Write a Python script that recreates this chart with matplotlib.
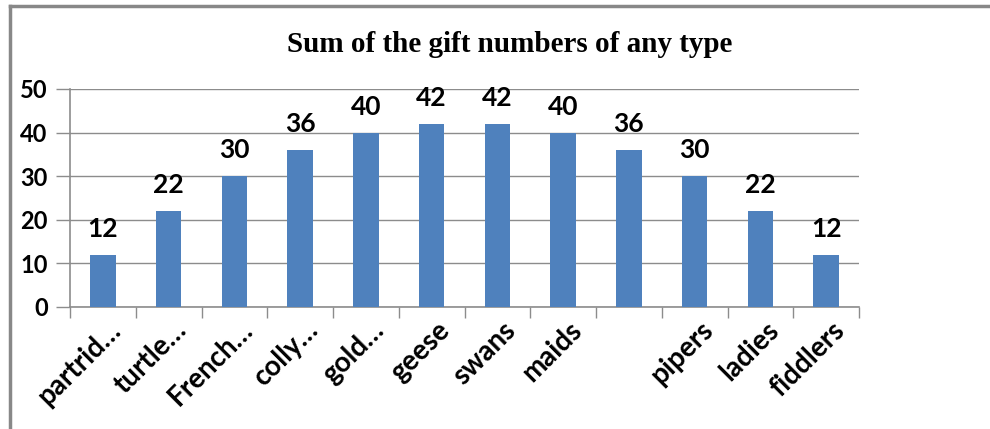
import matplotlib.pyplot as plt
import matplotlib.transforms as mtransforms
import numpy as np
from matplotlib.lines import Line2D

# data
categories = ["partrid…", "turtle…", "French…", "colly…", "gold…", "geese",
              "swans", "maids", "", "pipers", "ladies", "fiddlers"]
values = [12, 22, 30, 36, 40, 42, 42, 40, 36, 30, 22, 12]
y_ticks = [0, 10, 20, 30, 40, 50]

BAR_COLOR = "#4F81BD"
GRID_COLOR = "#8C8C8C"
LABEL_FONT = ["Lato", "DejaVu Sans"]

fig = plt.figure(figsize=(9.9, 4.29), dpi=100)
ax = fig.add_axes([70 / 990, 1 - 307 / 429, 789 / 990, 218 / 429])

x = np.arange(len(categories))
ax.bar(x, values, width=0.39, color=BAR_COLOR, zorder=3)

# value labels above the bars
for xi, v in zip(x, values):
    ax.annotate(str(v), (xi, v), xytext=(0, 10), textcoords="offset points",
                ha="center", va="bottom", fontsize=19, fontweight="bold",
                family=LABEL_FONT)

ax.set_xlim(-0.5, len(categories) - 0.5)
ax.set_ylim(0, 50)
ax.set_yticks(y_ticks)
ax.yaxis.grid(True, color=GRID_COLOR, linewidth=1)
ax.set_axisbelow(True)

# category labels at centers, tick marks at boundaries
ax.set_xticks(x)
ax.set_xticklabels(categories, rotation=45, ha="right", va="top",
                   rotation_mode="anchor", fontsize=20, fontweight="bold",
                   family=LABEL_FONT)
ax.tick_params(axis="x", which="major", length=0, pad=7)
shift = mtransforms.ScaledTranslation(5 / 100, 0, fig.dpi_scale_trans)
for lab in ax.get_xticklabels():
    lab.set_transform(lab.get_transform() + shift)
ax.set_xticks(np.arange(len(categories) + 1) - 0.5, minor=True)
ax.tick_params(axis="x", which="minor", length=8, color=GRID_COLOR, width=1)

for lab in ax.get_yticklabels():
    lab.set_fontsize(17)
    lab.set_fontweight("bold")
    lab.set_family(LABEL_FONT)
ax.tick_params(axis="y", length=10, color=GRID_COLOR, width=1, pad=6)

for side in ["top", "right"]:
    ax.spines[side].set_visible(False)
for side in ["left", "bottom"]:
    ax.spines[side].set_color(GRID_COLOR)
    ax.spines[side].set_linewidth(1.2)

fig.text(0.515, 1 - 45 / 429, "Sum of the gift numbers of any type",
         ha="center", va="center", fontsize=21, fontweight="bold",
         family="Liberation Serif")

# outer frame of the chart object (top and left edges visible)
fig.add_artist(Line2D([10 / 990, 1.0], [1 - 6 / 429, 1 - 6 / 429],
                      transform=fig.transFigure, color="#888888", linewidth=2.5))
fig.add_artist(Line2D([10 / 990, 10 / 990], [1 - 6 / 429, 0.0],
                      transform=fig.transFigure, color="#888888", linewidth=2.5))

fig.savefig("out.png", dpi=100)
